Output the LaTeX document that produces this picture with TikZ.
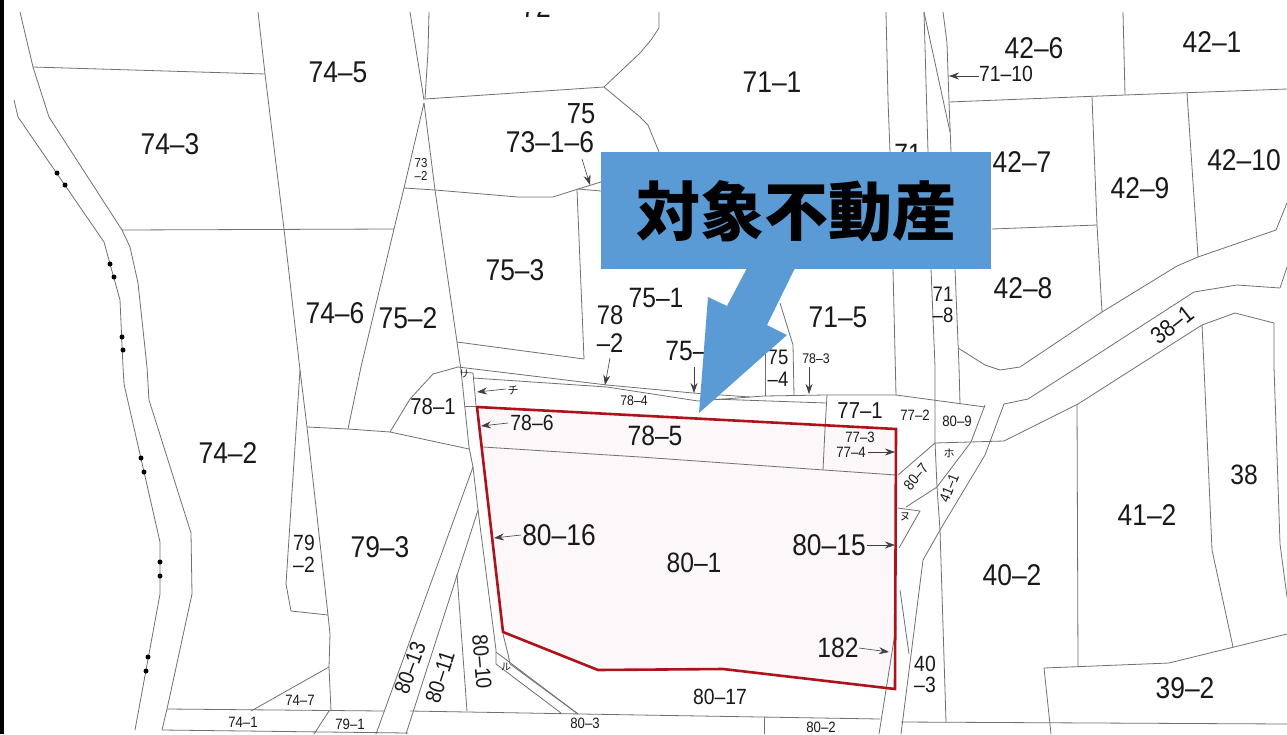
\documentclass[tikz,border=0pt]{standalone}
\usepackage{fontspec}
\setmainfont{Liberation Sans}
\newfontfamily\mapf[FakeStretch=0.88]{Liberation Sans}
\newfontfamily\cjkf{Noto Sans CJK JP}
\usetikzlibrary{arrows.meta}
\definecolor{parcelgray}{HTML}{707070}
\definecolor{redline}{HTML}{B0121B}
\definecolor{pinkfill}{HTML}{FCF7F9}
\definecolor{boxblue}{HTML}{5B9BD5}
\tikzset{
  parcel/.style={draw=parcelgray,line width=0.8pt,line join=round},
  lead/.style={draw=black!75,line width=0.6pt,-{Stealth[length=10pt,width=7pt]}},
  lbl/.style={inner sep=0pt,text=black!90,font=\mapf},
  sitedot/.style={circle,fill=black,inner sep=0pt,minimum size=5pt},
}
\newcommand{\lb}[4][0]{\node[lbl,rotate=#1] at (#2) {\fontsize{#3}{#3}\selectfont #4};}
\newcommand{\kn}[3]{\node[lbl,font=\cjkf] at (#1) {\fontsize{#2}{#2}\selectfont #3};}
\begin{document}
\begin{tikzpicture}[x=1pt,y=-1pt]
\useasboundingbox (0,0) rectangle (1287,734);
\fill[white] (0,0) rectangle (1287,734);
\fill[black] (0,0) rectangle (4,734);
% subject parcel tint
\fill[pinkfill] (477,407) -- (896,429) -- (895,689) -- (723,669) -- (598,670) -- (503,632) -- cycle;
% left road
\draw[parcel] (20,12) -- (33,67) -- (49,117) -- (122,230) -- (130,247) -- (138,283) -- (147,367) -- (149,400) -- (191,533) -- (192,594) -- (167,709) -- (162,730);
\draw[parcel] (14,100) -- (18,117) -- (104,242) -- (120,300) -- (123,367) -- (124,384) -- (160,542) -- (160,594) -- (135,730);
\foreach \p in {(57,173),(65,185),(110,264),(114,277),(122,337),(123,350),(141,458),(144,472),(160,562),(160,576),(148,657),(146,671)}
  \node[sitedot] at \p {};
% west parcels
\draw[parcel] (33,67) -- (265,74);
\draw[parcel] (258,12) -- (265,74) -- (284,229) -- (300,370) -- (307,427) -- (316,507) -- (328,615) -- (330,634) -- (329,667) -- (331,711);
\draw[parcel] (122,230) -- (394,229);
\draw[parcel] (410,12) -- (424,100);
\draw[parcel] (429,12) -- (428,52) -- (425,99);
\draw[parcel] (425,99) -- (604,87);
\draw[parcel] (604,87) -- (640,53) -- (651,40) -- (659,28) -- (659,12);
\draw[parcel] (604,87) -- (640,117) -- (648,125) -- (659,152);
\draw[parcel] (424,103) -- (435,190) -- (457,342) -- (461,370) -- (469,447) -- (473,467) -- (478,510) -- (496,650) -- (496,664);
\draw[parcel] (424,103) -- (404,188) -- (394,229) -- (361,367) -- (348,429);
\draw[parcel] (404,188) -- (435,190) -- (518,197) -- (553,197) -- (578,189) -- (601,182);
\draw[parcel] (578,189) -- (601,191);
\draw[parcel] (577,190) -- (584,359) -- (457,342);
\draw[parcel] (458,367) -- (433,374) -- (410,399) -- (390,432);
\draw[parcel] (307,427) -- (348,429) -- (390,432) -- (469,449);
\draw[parcel] (300,370) -- (286,584) -- (291,611) -- (328,615);
\draw[parcel] (473,467) -- (376,734);
\draw[parcel] (478,510) -- (406,734);
\draw[parcel] (457,574) -- (467,711);
\draw[parcel] (251,711) -- (329,667);
\draw[parcel] (329,711) -- (314,734);
\draw[parcel] (167,709) -- (384,711);
\draw[parcel] (410,711) -- (640,715) -- (880,719);
\draw[parcel] (162,730) -- (408,733);
\draw[parcel] (764,717) -- (764,734);
% south tail
\draw[parcel] (503,634) -- (508,654) -- (510,664) -- (578,714);
\draw[parcel] (496,652) -- (578,714);
\draw[parcel] (496,664) -- (561,713);
% strip north of the parcel
\draw[parcel] (458,367) -- (607,385) -- (693,393) -- (750,397) -- (764,396) -- (826,395) -- (896,395);
\draw[parcel] (473,378) -- (607,387) -- (698,401) -- (750,397);
\draw[parcel] (712,399) -- (826,403);
\draw[parcel] (460,372) -- (473,373) -- (476,405);
\draw[parcel] (465,406) -- (476,406);
\draw[parcel] (483,447) -- (640,457) -- (824,470) -- (896,475);
\draw[parcel] (827,395) -- (825,429) -- (823,470);
\draw[parcel] (765,345) -- (765,396);
\draw[parcel] (780,303) -- (793,345) -- (794,396);
% central vertical roads
\draw[parcel] (886,12) -- (888,100) -- (890,152) -- (893,269) -- (896,395);
\draw[parcel] (924,12) -- (928,152) -- (931,269) -- (935,367) -- (935,442) -- (937,487) -- (940,530) -- (946,722);
\draw[parcel] (924,12) -- (950,132);
\draw[parcel] (943,12) -- (947,43) -- (949,102) -- (951,152) -- (955,269) -- (959,367) -- (960,404);
% north-east parcels
\draw[parcel] (949,102) -- (1125,95) -- (1287,89);
\draw[parcel] (1123,12) -- (1125,95);
\draw[parcel] (1092,97) -- (1097,225) -- (1102,312);
\draw[parcel] (992,229) -- (1097,225);
\draw[parcel] (1187,93) -- (1198,257);
\draw[parcel] (958,348) -- (985,365) -- (1000,370) -- (1020,367) -- (1102,312) -- (1177,266) -- (1198,257) -- (1276,230) -- (1287,203);
\draw[parcel] (1004,404) -- (1028,399) -- (1078,367) -- (1194,292) -- (1237,285) -- (1280,288) -- (1287,267);
\draw[parcel] (1004,441) -- (1078,404) -- (1136,367) -- (1202,325) -- (1235,313) -- (1274,323);
\draw[parcel] (1202,325) -- (1204,367) -- (1212,550) -- (1233,647);
\draw[parcel] (1274,323) -- (1274,367) -- (1280,544) -- (1287,597);
\draw[parcel] (1077,404) -- (1078,667);
\draw[parcel] (1044,668) -- (1169,663) -- (1287,634);
\draw[parcel] (1044,668) -- (1051,734);
\draw[parcel] (901,722) -- (1287,724);
% junction by the east corner
\draw[parcel] (896,395) -- (985,407);
\draw[parcel] (985,405) -- (971,442) -- (937,487) -- (906,507);
\draw[parcel] (1004,404) -- (985,455) -- (940,530) -- (923,560) -- (901,734);
\draw[parcel] (935,443) -- (1004,441);
\draw[parcel] (935,443) -- (898,475);
\draw[parcel] (898,508) -- (920,511) -- (899,548);
\draw[parcel] (900,590) -- (909,654);
\draw[parcel] (896,627) -- (879,734);
% subject parcel outline
\draw[draw=redline,line width=2.6pt,line join=miter] (477,407) -- (896,429) -- (895,689) -- (723,669) -- (598,670) -- (503,632) -- cycle;
% leaders
\draw[lead] (582,159) -- (590,185);
\draw[lead] (610,358) -- (605,385);
\draw[lead] (694,367) -- (694,393);
\draw[lead] (809,367) -- (809,394);
\draw[lead] (979,76) -- (949,76);
\draw[lead] (506,389) -- (477,392);
\draw[lead] (508,423) -- (481,426);
\draw[lead] (521,535) -- (494,538);
\draw[lead] (867,545) -- (895,545);
\draw[lead] (868,452) -- (895,452);
\draw[lead] (859,648) -- (889,652);
% labels
\begin{scope}
\clip (0,12) rectangle (1287,734);
\lb{536,7}{30}{72}
\end{scope}
\lb{338,72}{30}{74–5}
\lb{170,144}{30}{74–3}
\lb{335,313}{30}{74–6}
\lb{408,318}{30}{75–2}
\lb{515,270}{30}{75–3}
\lb{581,114}{29}{75}
\lb{550,142}{30}{73–1–6}
\lb{421,163}{13}{73}
\lb{421,176}{13}{–2}
\lb{772,82}{30}{71–1}
\lb{1034,48}{30}{42–6}
\lb{1212,42}{30}{42–1}
\lb{1006,74}{22}{71–10}
\lb{1022,162}{30}{42–7}
\lb{1140,188}{30}{42–9}
\lb{1244,160}{30}{42–10}
\lb{1023,288}{30}{42–8}
\lb{838,317}{30}{71–5}
\lb{908,154}{28}{71}
\lb{943,294}{21}{71}
\lb{943,315}{21}{–8}
\lb{610,315}{27}{78}
\lb{610,343}{27}{–2}
\lb{656,298}{28}{75–1}
\lb{686,351}{28}{75–}
\lb{778,357}{21}{75}
\lb{778,379}{21}{–4}
\lb{816,359}{14}{78–3}
\lb[38]{1172,325}{24}{38–1}
\lb{433,407}{23}{78–1}
\lb{532,423}{22}{78–6}
\lb{634,401}{14}{78–4}
\lb{655,436}{28}{78–5}
\lb{860,411}{23}{77–1}
\lb{915,415}{15}{77–2}
\lb{957,421}{15}{80–9}
\lb{860,437}{15}{77–3}
\lb{851,452}{15}{77–4}
\lb[50]{916,477}{15}{80–7}
\lb[68]{949,488}{15}{41–1}
\lb{694,563}{28}{80–1}
\lb{559,535}{30}{80–16}
\lb{829,545}{30}{80–15}
\lb{838,648}{28}{182}
\lb{228,453}{30}{74–2}
\lb{380,547}{30}{79–3}
\lb{304,543}{22}{79}
\lb{304,565}{22}{–2}
\lb{1012,575}{30}{40–2}
\lb{1147,515}{30}{41–2}
\lb{1244,475}{28}{38}
\lb{1185,688}{30}{39–2}
\lb{925,664}{22}{40}
\lb{925,685}{22}{–3}
\lb{720,697}{22}{80–17}
\lb{585,723}{15}{80–3}
\lb{821,727}{15}{80–2}
\lb{300,700}{15}{74–7}
\lb{243,722}{15}{74–1}
\lb{350,724}{15}{79–1}
\lb[70]{410,668}{22}{80–13}
\lb[72]{440,677}{22}{80–11}
\lb[-85]{482,662}{22}{80–10}
\kn{464,374}{10}{リ}
\kn{513,390}{11}{チ}
\kn{506,667}{10}{ル}
\kn{905,517}{11}{ヌ}
\kn{949,453}{11}{ホ}
% callout
\fill[boxblue] (747,268) -- (727,306) -- (708,297) -- (699,413) -- (787,335) -- (767,325) -- (795,268) -- cycle;
\node[fill=boxblue,minimum width=390pt,minimum height=117pt,inner sep=0pt,anchor=north west] (callout) at (601,152) {};
\node[inner sep=0pt,font=\cjkf\bfseries] (calloutlabel) at (796,211) {\fontsize{64}{64}\selectfont 対象不動産};
\end{tikzpicture}
\end{document}
